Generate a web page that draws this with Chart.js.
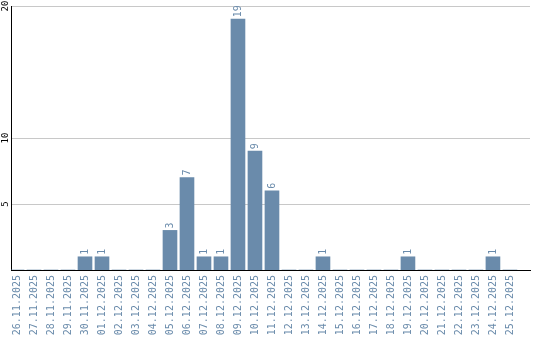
<!DOCTYPE html>
<html lang="en">
<head>
    <meta charset="UTF-8">
    <title>Daily count</title>
    <script src="https://cdn.jsdelivr.net/npm/chart.js"></script>
    <style>
        html, body { margin: 0; padding: 0; background: #fff; }
        #wrap { position: relative; width: 540px; height: 340px; }
    </style>
</head>
<body>
    <div id="wrap"><canvas id="chart"></canvas></div>

    <script>
        // dates shown on the x axis
        const dates = [
            '26.11.2025', '27.11.2025', '28.11.2025', '29.11.2025', '30.11.2025',
            '01.12.2025', '02.12.2025', '03.12.2025', '04.12.2025', '05.12.2025',
            '06.12.2025', '07.12.2025', '08.12.2025', '09.12.2025', '10.12.2025',
            '11.12.2025', '12.12.2025', '13.12.2025', '14.12.2025', '15.12.2025',
            '16.12.2025', '17.12.2025', '18.12.2025', '19.12.2025', '20.12.2025',
            '21.12.2025', '22.12.2025', '23.12.2025', '24.12.2025', '25.12.2025'
        ];
        // count per day
        const counts = [
            0, 0, 0, 0, 1,
            1, 0, 0, 0, 3,
            7, 1, 1, 19, 9,
            6, 0, 0, 1, 0,
            0, 0, 0, 1, 0,
            0, 0, 0, 1, 0
        ];
        // y axis ticks
        const yTicks = [5, 10, 20];

        const blue = '#6a8bab';
        const mono = 'DejaVu Sans Mono';

        // value labels above the bars, rotated like the axis labels
        const barLabels = {
            id: 'barLabels',
            afterDatasetsDraw(chart) {
                const ctx = chart.ctx;
                const meta = chart.getDatasetMeta(0);
                ctx.save();
                ctx.fillStyle = blue;
                ctx.font = '10px "' + mono + '"';
                ctx.textAlign = 'left';
                ctx.textBaseline = 'middle';
                meta.data.forEach((bar, i) => {
                    if (!counts[i]) return;
                    ctx.save();
                    ctx.translate(bar.x, bar.y - 2);
                    ctx.rotate(-Math.PI / 2);
                    ctx.fillText(String(counts[i]), 0, 0);
                    ctx.restore();
                });
                ctx.restore();
            }
        };

        new Chart(document.getElementById('chart'), {
            type: 'bar',
            data: {
                datasets: [{
                    data: dates.map((d, i) => ({ x: i, y: counts[i] })),
                    backgroundColor: blue,
                    borderWidth: 0,
                    barThickness: 14
                }]
            },
            options: {
                responsive: true,
                maintainAspectRatio: false,
                animation: false,
                layout: { padding: { top: 6, right: 10, left: 0, bottom: 0 } },
                plugins: { legend: { display: false }, tooltip: { enabled: false } },
                scales: {
                    x: {
                        type: 'linear',
                        offset: false,
                        min: -0.353,
                        max: 30.18,
                        afterBuildTicks(scale) {
                            scale.ticks = dates.map((d, i) => ({ value: i }));
                        },
                        afterFit(scale) {
                            scale.height = 70;
                            scale.paddingLeft = 0;
                            scale.paddingRight = 0;
                        },
                        grid: { display: false, drawTicks: false, offset: false },
                        border: { color: '#000', width: 1 },
                        ticks: {
                            autoSkip: false,
                            minRotation: 90,
                            maxRotation: 90,
                            padding: 5,
                            color: blue,
                            font: { family: mono, size: 10 },
                            callback: v => dates[v] || ''
                        }
                    },
                    y: {
                        min: 0,
                        max: 20,
                        afterBuildTicks(scale) {
                            scale.ticks = yTicks.map(v => ({ value: v }));
                        },
                        afterFit(scale) {
                            scale.width = 11;
                            scale.paddingTop = 0;
                            scale.paddingBottom = 0;
                        },
                        grid: { color: '#c8c8c8', drawTicks: false },
                        border: { color: '#000', width: 1 },
                        ticks: {
                            minRotation: 90,
                            maxRotation: 90,
                            crossAlign: 'center',
                            padding: 0,
                            color: '#000',
                            font: { family: mono, size: 9 }
                        }
                    }
                }
            },
            plugins: [barLabels]
        });
    </script>
</body>
</html>
